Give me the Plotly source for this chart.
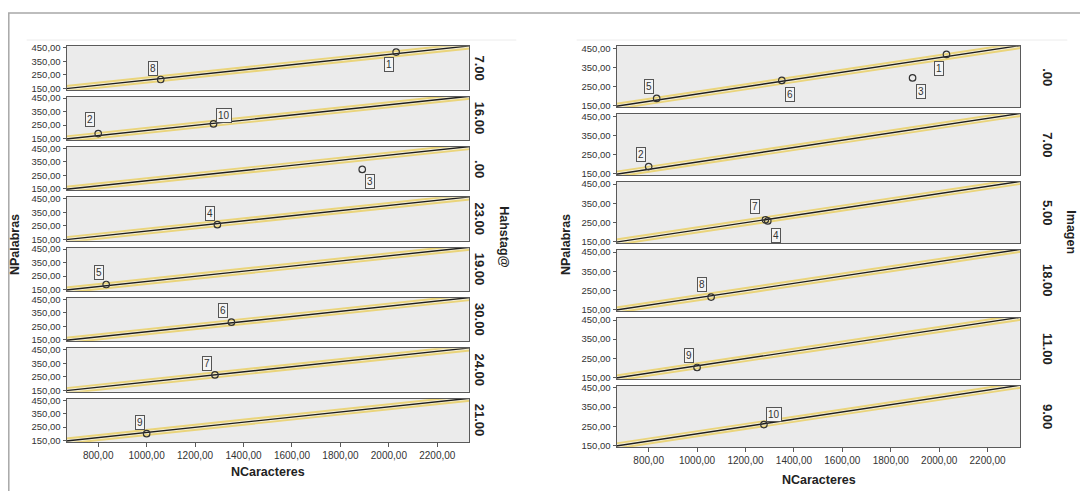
import plotly.graph_objects as go

# ---------------- data ----------------
case_ids = [1, 2, 3, 4, 5, 6, 7, 8, 9, 10]
NCaracteres = [2030, 800, 1890, 1292, 833, 1350, 1282, 1058, 1000, 1276]
NPalabras = [418, 187, 295, 258, 188, 282, 264, 215, 202, 259]
Hahstag = ["7.00", "16.00", ".00", "23.00", "19.00", "30.00", "24.00", "7.00", "21.00", "16.00"]
Imagen = [".00", "7.00", ".00", "5.00", ".00", ".00", "5.00", "18.00", "11.00", "9.00"]

hahstag_levels = ["7.00", "16.00", ".00", "23.00", "19.00", "30.00", "24.00", "21.00"]
imagen_levels = [".00", "7.00", "5.00", "18.00", "11.00", "9.00"]

x_ticks = [800, 1000, 1200, 1400, 1600, 1800, 2000, 2200]
y_ticks = [150, 250, 350, 450]

# pooled linear fit NPalabras ~ NCaracteres
fit_intercept = 20.7
fit_slope = 0.19

# ---------------- styles / positions ----------------
OFF = 8                      # page body margin of the written html
FW, FH = 1088 - OFF, 491 - OFF
FONT = "Liberation Sans, Arial, sans-serif"
PANEL_BG = "#ebebeb"
FRAME = "#5a5a5a"
TXT = "#333333"

left_offsets = {1: (-7.5, 12.7), 2: (-8, -14), 3: (8, 12.3), 4: (-7.5, -11.7), 5: (-7.6, -12.5),
                6: (-8, -12), 7: (-8, -11.5), 8: (-8, -11), 9: (-6.3, -11.5), 10: (10, -8)}
right_offsets = {1: (-7.7, 13.8), 2: (-8, -11.7), 3: (8.7, 14), 4: (8, 14.7), 5: (-8, -11.7),
                 6: (8, 13.6), 7: (-10, -13), 8: (-8.7, -12.7), 9: (-8, -11.7), 10: (9.7, -10.1)}

charts = [
    dict(title="Hahstag@", levels=hahstag_levels, groups=Hahstag, x0=66.7, x1=469.3, top=42.75,
         bottom=445.25, gap=7, xrange=[670, 2332], yrange=[140, 462], offsets=left_offsets,
         facet_x=479.5, title_x=504, title_y=237, ytitle_x=15, xtitle_y=476),
    dict(title="Imagen", levels=imagen_levels, groups=Imagen, x0=616.7, x1=1020.3, top=42.75,
         bottom=450.25, gap=7, xrange=[668, 2335], yrange=[142, 461], offsets=right_offsets,
         facet_x=1047.5, title_x=1071, title_y=232, ytitle_x=566, xtitle_y=483.5),
]


def px_x(p):
    return (p - OFF) / FW


def px_y(p):
    return 1 - (p - OFF) / FH


fig = go.Figure()
layout = {}
annotations = []
shapes = []
k = 0
for ch in charts:
    n = len(ch["levels"])
    h = (ch["bottom"] - ch["top"] - (n - 1) * ch["gap"]) / n
    fx = [ch["xrange"][0] - 50, ch["xrange"][1] + 50]
    fy = [fit_intercept + fit_slope * v for v in fx]
    for i, lev in enumerate(ch["levels"]):
        k += 1
        xa = "x" if k == 1 else f"x{k}"
        ya = "y" if k == 1 else f"y{k}"
        ptop = ch["top"] + i * (h + ch["gap"])
        pbot = ptop + h
        last = i == n - 1
        # fit line with yellow halo
        for col, wdt in [("#ead47a", 7), ("#f3eed8", 3.2), ("#1e1e1e", 1.4)]:
            fig.add_trace(go.Scatter(x=fx, y=fy, mode="lines", line=dict(color=col, width=wdt),
                                     xaxis=xa, yaxis=ya, hoverinfo="skip", showlegend=False))
        idx = [j for j, g in enumerate(ch["groups"]) if g == lev]
        xs = [NCaracteres[j] for j in idx]
        ys = [NPalabras[j] for j in idx]
        fig.add_trace(go.Scatter(x=xs, y=ys, mode="markers",
                                 marker=dict(symbol="circle-open", size=6.5, color="#333333",
                                             line=dict(width=1.2)),
                                 xaxis=xa, yaxis=ya, showlegend=False))
        for j in idx:
            dx, dy = ch["offsets"][case_ids[j]]
            annotations.append(dict(x=NCaracteres[j], y=NPalabras[j], xref=xa, yref=ya,
                                    text=str(case_ids[j]), showarrow=True,
                                    arrowcolor="rgba(0,0,0,0)", arrowwidth=0.1, ax=dx, ay=dy,
                                    font=dict(family=FONT, size=10, color=TXT),
                                    bgcolor="#f4f4f4", bordercolor="#555555", borderwidth=1,
                                    borderpad=1))
        layout["xaxis" if k == 1 else f"xaxis{k}"] = dict(
            domain=[px_x(ch["x0"]), px_x(ch["x1"])], range=ch["xrange"], anchor=ya,
            tickvals=x_ticks, tickformat=".2f", showticklabels=last,
            ticks="outside" if last else "", ticklen=4, tickcolor=FRAME,
            tickfont=dict(family=FONT, size=10, color=TXT),
            showline=True, mirror=True, linecolor=FRAME, linewidth=1.4,
            showgrid=False, zeroline=False, fixedrange=True)
        layout["yaxis" if k == 1 else f"yaxis{k}"] = dict(
            domain=[px_y(pbot), px_y(ptop)], range=ch["yrange"], anchor=xa,
            tickvals=y_ticks, tickformat=".2f", ticks="outside", ticklen=3, tickcolor=FRAME,
            tickfont=dict(family=FONT, size=9.5, color=TXT),
            showline=True, mirror=True, linecolor=FRAME, linewidth=1.4,
            showgrid=False, zeroline=False, fixedrange=True)
        annotations.append(dict(x=px_x(ch["facet_x"]), y=px_y((ptop + pbot) / 2), xref="paper",
                                yref="paper", text=f"<b>{lev}</b>", textangle=90, showarrow=False,
                                xanchor="center", yanchor="middle",
                                font=dict(family=FONT, size=13, color="#222222")))
    annotations.append(dict(x=px_x(ch["title_x"]), y=px_y(ch["title_y"]), xref="paper", yref="paper",
                            text=f"<b>{ch['title']}</b>", textangle=90, showarrow=False,
                            xanchor="center", yanchor="middle",
                            font=dict(family=FONT, size=12.5, color="#222222")))
    annotations.append(dict(x=px_x(ch["ytitle_x"]), y=px_y(245), xref="paper", yref="paper",
                            text="<b>NPalabras</b>", textangle=-90, showarrow=False,
                            xanchor="center", yanchor="middle",
                            font=dict(family=FONT, size=12.5, color="#222222")))
    annotations.append(dict(x=px_x((ch["x0"] + ch["x1"]) / 2), y=px_y(ch["xtitle_y"]), xref="paper",
                            yref="paper", text="<b>NCaracteres</b>", showarrow=False,
                            xanchor="center", yanchor="middle",
                            font=dict(family=FONT, size=12.5, color="#222222")))
    # faint header line
    shapes.append(dict(type="line", xref="paper", yref="paper", x0=px_x(ch["x0"] - 40),
                       x1=px_x(ch["x1"] + 47), y0=px_y(36.5), y1=px_y(36.5),
                       line=dict(color="#ececec", width=1)))

# outer frame
shapes.append(dict(type="rect", xref="paper", yref="paper", x0=px_x(8.8), x1=px_x(1085),
                   y0=px_y(500), y1=px_y(9), line=dict(color="#a8a8a8", width=1.5)))

fig.update_layout(**layout)
fig.update_layout(width=FW, height=FH, margin=dict(l=0, r=0, t=0, b=0), autosize=False,
                  paper_bgcolor="white", plot_bgcolor=PANEL_BG, separators=",.",
                  annotations=annotations, shapes=shapes, showlegend=False,
                  font=dict(family=FONT, color=TXT))
fig.write_html("out.html")
